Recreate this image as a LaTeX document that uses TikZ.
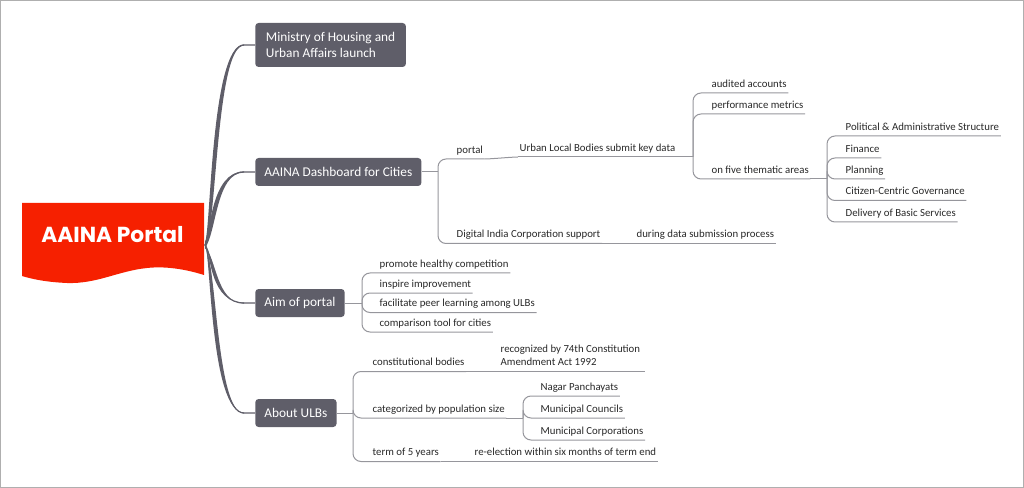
\documentclass[tikz,border=0pt]{standalone}
\usepackage{fontspec}
\setmainfont{Carlito}
\newfontfamily\rootfont{Poppins}
\usetikzlibrary{calc}
\definecolor{nodec}{RGB}{95,94,105}
\definecolor{rootc}{RGB}{246,32,0}
\definecolor{subc}{RGB}{150,150,156}
\definecolor{txtc}{RGB}{40,40,40}
\definecolor{framec}{RGB}{175,175,175}
\tikzset{
  mnode/.style={fill=nodec, text=white, rounded corners=2.5pt, anchor=west,
    inner xsep=6.9pt, inner ysep=0pt, minimum height=21pt,
    font=\fontsize{10pt}{12pt}\selectfont, align=left},
  leaf/.style={anchor=south west, inner xsep=1.1pt, inner ysep=0pt,
    text depth=4.1pt, text=txtc, font=\fontsize{8.1pt}{9.75pt}\selectfont},
  sub/.style={draw=subc, line width=0.75pt, rounded corners=6pt},
  mainline/.style={draw=nodec, line width=0.9pt},
  mainfill/.style={fill=nodec},
}
% #1 target y, #2 sign (-1 up, 1 down), #3 node name, #4 end coordinate name
\newcommand\mybranch[4]{%
  \coordinate (#4) at (244,#1);
  \fill[mainfill] (205,242.0) .. controls (210.8,245+#2*12) and (210.8,#1) .. (244,#1-0.6)
     -- (244,#1+0.6) .. controls (216,#1) and (216.5,245+#2*12) .. (205,248.0) -- cycle;
  \draw[mainline] (J) .. controls (213.5,245+#2*12) and (213.2,#1) .. (#4) -- (#3.west);
}
\begin{document}
\begin{tikzpicture}[x=0.75pt,y=-0.75pt]
\useasboundingbox (0,0) rectangle (1024,488);
\draw[framec, line width=0.75pt] (0.5,0.5) rectangle (1023.5,487.5);

% root
\fill[rootc] (22,203) -- (204,203) -- (204,275)
  .. controls (185,269) and (165,266) .. (147,268)
  .. controls (118,271) and (97,284) .. (67,283)
  .. controls (45,282) and (32,279) .. (22,276) -- cycle;
\node[text=white, font=\rootfont\bfseries\fontsize{16.3pt}{18pt}\selectfont, anchor=base, inner sep=0pt] (root) at (112.5,243) {AAINA Portal};
\coordinate (J) at (205,245);

% main nodes
\node[mnode, minimum height=33pt, minimum width=113pt] (n1) at (255,45) {Ministry of Housing and\\Urban Affairs launch};
\node[mnode] (n2) at (255,172) {AAINA Dashboard for Cities};
\node[mnode] (n3) at (255,303) {Aim of portal};
\node[mnode] (n4) at (255,413) {About ULBs};

\mybranch{45}{-1}{n1}{e1}
\mybranch{172}{-1}{n2}{e2}
\mybranch{303}{1}{n3}{e3}
\mybranch{413}{1}{n4}{e4}

% ---- Dashboard subtree
\coordinate (b2) at (438,172);
\node[leaf] (portal) at (454.9,159) {portal};
\node[leaf] (urban) at (517.9,157) {Urban Local Bodies submit key data};
\node[leaf] (digital) at (454.9,243.5) {Digital India Corporation support};
\node[leaf] (during) at (634.9,243.5) {during data submission process};
\draw[sub] (n2.east) -- (b2);
\draw[sub] (b2) |- (portal.south east);
\draw[sub] (b2) |- (digital.south east);
\draw[sub, rounded corners=0pt] (portal.south east) .. controls +(6,0) and +(-6,0) .. (urban.south west);
\draw[sub] (digital.south east) -- (during.south west);
\draw[sub] (during.south west) -- (during.south east);

\coordinate (b3) at (693,157);
\node[leaf] (audited) at (709.9,93) {audited accounts};
\node[leaf] (perf) at (709.9,114) {performance metrics};
\node[leaf] (five) at (709.9,179) {on five thematic areas};
\draw[sub] (urban.south west) -- (b3);
\draw[sub] (b3) |- (audited.south east);
\draw[sub] (b3) |- (perf.south east);
\draw[sub] (b3) |- (five.south east);

\coordinate (b4) at (827,179);
\node[leaf] (pol) at (843.9,136) {Political \& Administrative Structure};
\node[leaf] (fin) at (843.9,158) {Finance};
\node[leaf] (plan) at (843.9,179) {Planning};
\node[leaf] (cit) at (843.9,200.5) {Citizen-Centric Governance};
\node[leaf] (del) at (843.9,222) {Delivery of Basic Services};
\draw[sub] (five.south east) -- (b4);
\draw[sub] (b4) |- (pol.south east);
\draw[sub] (b4) |- (fin.south east);
\draw[sub] (b4) |- (plan.south east);
\draw[sub] (b4) |- (cit.south east);
\draw[sub] (b4) |- (del.south east);

% ---- Aim subtree
\coordinate (b5) at (362,303);
\node[leaf] (prom) at (377.9,273) {promote healthy competition};
\node[leaf] (insp) at (377.9,293) {inspire improvement};
\node[leaf] (faci) at (377.9,312.5) {facilitate peer learning among ULBs};
\node[leaf] (comp) at (377.9,332) {comparison tool for cities};
\draw[sub] (n3.east) -- (b5);
\draw[sub] (b5) |- (prom.south east);
\draw[sub] (b5) |- (insp.south east);
\draw[sub] (b5) |- (faci.south east);
\draw[sub] (b5) |- (comp.south east);

% ---- ULB subtree
\coordinate (b6) at (353,413);
\node[leaf] (const) at (370.9,371.5) {constitutional bodies};
\node[leaf] (recog) at (498.9,371.5) {\vbox{\baselineskip=9.75pt\hbox{recognized by 74th Constitution}\hbox{Amendment Act 1992}}};
\node[leaf] (categ) at (370.9,418) {categorized by population size};
\node[leaf] (term) at (370.9,461.5) {term of 5 years};
\node[leaf] (reel) at (472.9,461.5) {re-election within six months of term end};
\draw[sub] (n4.east) -- (b6);
\draw[sub] (b6) |- (const.south east);
\draw[sub] (b6) |- (categ.south east);
\draw[sub] (b6) |- (term.south east);
\draw[sub] (const.south east) -- (recog.south west);
\draw[sub] (recog.south west) -- ($(recog.south east)+(3,0)$);
\draw[sub] (term.south east) -- (reel.south west);
\draw[sub] (reel.south west) -- (reel.south east);

\coordinate (b7) at (523,418);
\node[leaf] (nagar) at (538.9,396) {Nagar Panchayats};
\node[leaf] (mcoun) at (538.9,418) {Municipal Councils};
\node[leaf] (mcorp) at (538.9,440) {Municipal Corporations};
\draw[sub] (categ.south east) -- (b7);
\draw[sub] (b7) |- (nagar.south east);
\draw[sub] (b7) |- (mcoun.south east);
\draw[sub] (b7) |- (mcorp.south east);
\end{tikzpicture}
\end{document}
